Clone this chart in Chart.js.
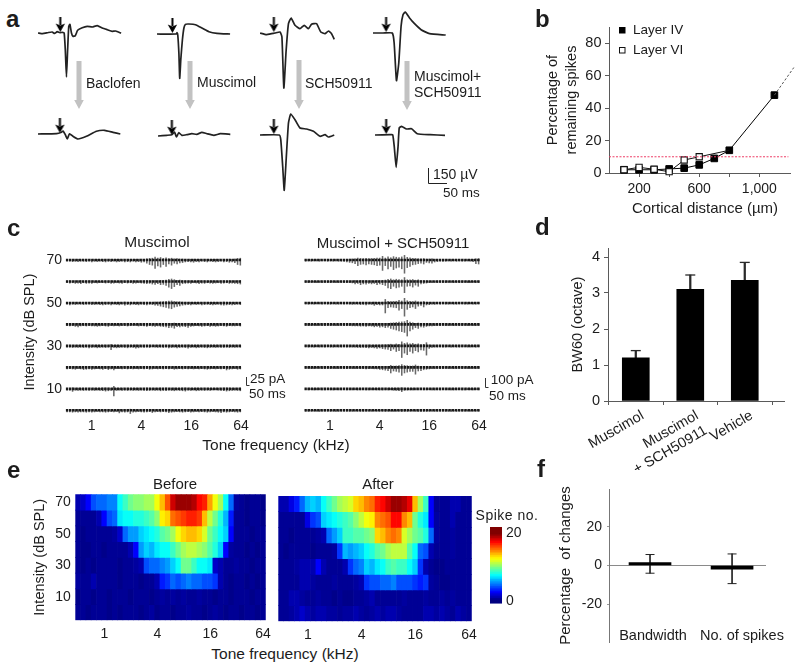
<!DOCTYPE html>
<html><head><meta charset="utf-8">
<style>
html,body{margin:0;padding:0;background:#fff;width:800px;height:667px;overflow:hidden}
canvas{position:absolute}
.t{position:absolute;white-space:pre;line-height:1;color:#1c1c1c;font-family:"Liberation Sans",Arial,sans-serif}
svg{position:absolute;left:0;top:0}
</style>
<script src="https://cdn.jsdelivr.net/npm/chart.js@4"></script>
</head><body>
<script>
// ---------- panel a: evoked responses, [time ms, amplitude uV] ----------
const baclofenBefore=[[0,0],[12,-7],[27,5],[37,10],[43,-5],[50,13],[57,3],[63,7],[68,0],[71,-170],[74,-440],[77,-170],[80,67],[83,87],[87,0],[91,-33],[97,-27],[103,27],[115,53],[128,67],[141,60],[154,73],[167,50],[180,33],[193,17],[202,20],[216,-3]];
const muscimolBefore=[[0,0],[50,0],[52,13],[54,-10],[57,-200],[59,-443],[62,-250],[66,-60],[70,60],[74,97],[83,100],[100,93],[118,57],[135,23],[156,7],[190,0]];
const schBefore=[[0,0],[17,-17],[30,-7],[39,0],[52,10],[57,-40],[62,-550],[68,-173],[74,93],[81,150],[91,77],[104,43],[115,77],[126,43],[134,87],[147,93],[158,10],[169,-7],[178,20],[186,-7],[193,-63]];
const bothBefore=[[0,0],[26,0],[50,0],[55,-100],[61,-476],[67,-300],[73,67],[78,183],[84,210],[95,150],[108,93],[125,33],[147,-7],[189,-20]];
const baclofenAfter=[[0,0],[48,3],[61,17],[65,30],[71,-7],[76,-50],[82,3],[91,-23],[104,-50],[126,-23],[152,27],[173,37],[195,17],[214,0]];
const muscimolAfter=[[0,0],[23,7],[36,13],[43,40],[48,-10],[54,33],[62,7],[75,13],[88,23],[101,17],[114,37],[127,23],[145,7],[162,23],[188,17]];
const schAfter=[[0,0],[50,0],[54,-47],[59,-313],[63,-553],[68,-247],[74,120],[80,210],[91,153],[104,70],[121,60],[139,37],[156,-13],[169,3],[178,-20],[193,0]];
const bothAfter=[[0,0],[39,3],[46,3],[50,-113],[55,-323],[60,-113],[63,70],[69,87],[82,60],[95,63],[110,13],[143,3],[182,-3]];
const stimulusTimes=[58,40,36,34,57,36,36,29];

// ---------- panel b ----------
const distanceUm=[100,200,300,400,500,600,700,800,1100];
const layerIV=[2,2,2,2.5,3,5,9,14,48];
const layerVIdist=[100,200,300,400,500,600,800];
const layerVI=[2,3.5,2.3,0.8,8,10,14];
const extensionDist=[1100,1229];
const extensionPct=[48,65];
const thresholdPct=10;
const distanceTicks=[200,400,600,800,1000];
const distanceTickLabels=['200','','600','','1,000'];

// ---------- panel c: downward current deflection in pA ----------
const intensityRows=[70,60,50,40,30,20,10,0];
const muscimolPA70=[4,4,5,4,5,4,4,5,4,6,4,5,4,5,6,4,5,4,6,5,4,6,5,6,4,6,5,7,6,10,14,16,26,18,22,14,20,12,16,10,12,9,8,6,5,6,7,5,6,4,5,6,4,5,6,5,4,6,5,7,6,8,14,16];
const muscimolPA60=[4,5,4,6,5,7,4,6,5,6,4,5,4,4,5,4,6,5,4,5,6,4,5,4,6,5,4,5,6,7,6,8,9,7,10,9,12,18,22,16,10,12,7,6,5,6,4,5,7,5,6,4,5,6,5,4,6,5,4,6,5,6,7,8];
const muscimolPA50=[4,6,4,5,4,4,5,4,4,5,5,4,5,6,5,4,6,4,5,6,4,7,5,6,4,5,6,4,5,6,4,5,7,8,10,12,14,16,18,13,11,9,7,6,5,6,4,5,4,6,5,4,5,6,5,4,6,7,6,5,6,5,4,5];
const muscimolPA40=[4,5,4,6,8,5,4,5,4,5,5,6,5,4,5,6,4,5,4,5,4,4,5,4,3,3,5,4,5,6,4,5,6,5,6,7,8,10,9,12,7,8,6,7,9,6,5,4,5,6,5,4,6,5,6,5,4,5,6,4,5,5,4,5];
const muscimolPA30=[4,4,5,4,5,4,5,4,6,5,4,6,5,4,5,4,12,5,6,5,4,5,6,4,5,7,6,4,5,4,5,3,4,5,4,5,4,6,5,4,6,5,4,5,7,5,4,6,5,4,5,6,5,4,5,4,5,5,4,5,4,5,4,4];
const muscimolPA20=[5,4,5,6,4,5,7,6,5,6,5,4,5,6,4,7,5,8,4,4,5,4,5,4,5,4,5,4,5,4,6,5,4,5,4,5,4,5,4,6,5,4,5,4,5,4,5,4,5,4,5,6,5,4,5,4,5,4,8,6,5,4,6,5];
const muscimolPA10=[4,4,8,4,5,4,5,4,5,4,5,4,5,6,7,6,5,22,5,4,5,4,5,4,5,4,5,4,5,6,5,4,5,4,6,5,6,4,5,6,4,5,6,7,4,5,4,6,5,4,5,4,5,3,3,4,5,6,7,6,5,4,5,6];
const muscimolPA0=[5,5,6,5,6,5,5,6,5,6,5,4,5,5,6,5,4,5,4,8,5,6,5,10,6,5,4,5,6,5,4,7,5,4,5,4,5,7,6,5,4,5,6,5,4,6,5,4,5,4,5,6,5,4,5,6,7,5,6,5,4,5,6,5];
const comboPA70=[15,12,15,12,12,15,12,12,15,12,15,12,15,15,18,25,30,35,45,70,55,50,60,50,55,60,70,65,130,70,110,80,120,100,90,110,165,95,80,60,55,45,40,50,30,35,40,25,20,15,18,15,12,15,12,15,12,15,15,12,15,20,45,50];
const comboPA60=[12,15,12,12,15,12,15,12,15,15,12,15,15,12,15,15,15,18,30,25,40,30,35,25,30,25,40,30,40,50,80,90,60,80,70,60,140,60,55,70,45,60,30,25,20,15,15,12,15,12,15,15,12,12,15,12,15,15,12,15,15,12,15,15];
const comboPA50=[12,15,12,15,12,12,15,12,15,15,12,15,15,12,15,12,15,18,15,15,20,18,25,15,18,30,20,25,25,125,60,50,55,60,90,70,165,80,60,50,70,40,30,50,25,20,15,18,12,15,12,15,15,12,15,15,12,12,15,15,12,15,15,12];
const comboPA40=[12,15,15,12,15,12,15,15,12,15,12,15,15,12,15,15,15,18,20,18,22,20,25,20,22,30,25,35,30,40,35,50,60,70,80,90,100,145,80,60,40,50,30,35,25,20,18,15,12,15,12,15,15,12,15,12,15,15,12,15,12,15,15,12];
const comboPA30=[12,15,12,15,12,15,12,15,12,15,15,12,15,15,12,15,15,15,15,18,20,18,22,25,20,25,30,25,35,40,45,60,40,70,60,145,90,110,70,90,60,75,50,55,115,30,20,15,15,12,15,15,12,15,12,15,15,12,12,15,15,12,15,12];
const comboPA20=[12,12,15,15,12,12,15,15,12,15,12,15,15,12,15,15,12,15,15,12,15,15,18,15,15,18,20,25,30,35,40,70,45,50,60,100,70,60,50,50,85,45,40,30,25,18,15,15,12,15,15,12,15,12,15,15,12,15,12,15,15,12,15,12];
const comboPA10=[10,12,10,12,12,10,12,12,10,12,12,10,12,12,10,12,12,12,10,12,12,10,12,14,12,12,14,12,14,12,14,12,18,20,22,35,18,15,12,14,12,12,10,12,12,10,12,14,12,12,10,12,12,12,14,12,10,12,12,10,12,12,10,12];
const comboPA0=[12,12,10,12,12,14,12,12,10,12,12,14,12,10,12,10,12,12,10,12,12,12,10,12,12,10,12,12,10,12,12,12,14,12,12,14,12,12,12,10,12,14,14,12,12,12,10,12,12,10,12,12,12,14,12,12,10,12,12,10,12,12,12,10];

// ---------- panel d ----------
const dCategories=['Muscimol',['Muscimol','+ SCH50911'],'Vehicle'];
const bwMean=[1.2,3.1,3.35];
const bwError=[0.2,0.4,0.5];

// ---------- panel e: spike number per intensity row and frequency column ----------
const freqKHz=['0.5','0.57','0.66','0.76','0.87','1','1.15','1.32','1.52','1.74','2','2.3','2.64','3.03','3.48','4','4.59','5.28','6.06','6.96','8','9.19','10.56','12.13','13.93','16','18.38','21.11','24.25','27.86','32','36.76','42.22','48.5','55.72','64'];
const before70=[1.5,2,3,4.5,5,5,5.5,5.5,8,9,10,10.5,10.5,11,11,12.5,14,16,18.5,19.5,19.5,19.5,19,17.5,17,14.5,12.5,11,8,5,1.2,1,.8,1,1,.8];
const before60=[1,1,1,1,1.5,3,4.5,5,7.5,8,8,8.5,8.5,9,9.5,10.5,13,13.5,15.5,16,16.5,17,17,16.5,14,11.5,10,8.5,6.5,3.5,1,1,.8,1,1,.8];
const before50=[1,.8,1,1,1,1,1,1.2,2,5,6,6,7,7.5,8,8.5,9.5,10,11,12.5,13.5,14,14,13.5,12,10,9,8,7,3,1,1,1,.8,1,1];
const before40=[1,.8,.8,1,1,.8,1,1,1,1,1.5,3,6,7,6.5,7.5,8,8,9,10,11,11.5,11.5,11,10.5,9.5,8.5,7,3,1.2,1,1,.8,1,.8,1];
const before30=[1,.8,1,.8,1,1,1,1,.8,1,1,1.2,1.5,4.5,5,5,5.5,6,7,8,10,10,9,8,8,7.5,2,1.5,1,1,1.2,1,1,.8,1,1];
const before20=[1.2,1,1,1.5,1,1,1,1,.8,1,1,1,.8,1,1,1.5,3.5,4,5,4.5,5,5.5,5,5,4.5,4.5,4,1.5,1,.8,1,1,.8,1,.8,1];
const before10=[.8,1,1,.8,1,1,.8,1,1,1,.8,1,1,1,.8,1,1.2,1,1.2,1,1.2,1,1,1.2,1,1,.8,1,1,.8,1,1,1,.8,1,1];
const before0=[1,1,.8,1,1,1,.8,1,.8,1,1,1,.8,1,1.2,.8,1,1,.8,1,1,1.2,1,1,.8,1,1.2,1,.8,1,1,.8,1,1,.8,1];
const after70=[1.5,1.5,2.5,3.5,5,6.5,7,6.5,8,9,10,11,11.5,12,13.5,14,15,15.5,17,17.5,18.5,19.5,19.5,19,18,14,11,9,3,1,1,1,1.5,1.5,1,1];
const after60=[1,1,1,1,1,2.5,4,4.5,7,7.5,8,8.5,9,9.5,10.5,11.5,12.5,13,15,15.5,16,17.5,17.5,15,14,10,8.5,7.5,3,1.2,1,1,1.5,1,1,1];
const after50=[1,1,.8,1,1,1,1,1.2,1.5,5,6,7,9,9,9.5,9.5,10,10.5,13.5,14,15,15.5,15,12,11,10,9.5,8.5,5,1.2,1,1,1.2,1,1,1];
const after40=[1,.8,1,1,1,1,.8,1,1,1,1.2,4,6.5,6,6.5,7,8,8.5,9.5,10,11,11.5,11.5,11.5,9.5,8,5,4.5,1.5,1,1,1,1.2,1,1,1];
const after30=[1,1,1,1.2,1.5,1.5,1.5,3,1.5,1,1,1,1.5,4,5,5.5,7,6.5,7.5,8,9,9.5,9,9,8,7,4,1.5,1,.8,.8,1,1,1,1,1];
const after20=[1,1,1,1,1.5,1.5,1.2,1,1,1,1.2,1,1,1,1.2,1.5,4,4.5,4.5,5,5,5.5,4.5,4.5,4.5,4,3.5,4,1.2,1,.8,.8,1,1,1,1];
const after10=[1,1,1.5,1.5,1.2,1,1,1.2,1,1,.8,1,.8,.8,1,1,1.2,1.5,1,1,1,1,1,1.2,1,1,1,1.2,1,1,1.2,1,1.2,1,1,1];
const after0=[1,1,1.2,1.5,2,1.5,1.2,1.5,1.5,1.2,1.2,1,1.2,1.2,1.5,1.2,1,1.2,1.5,1.2,1.5,1.5,1.2,1,1,1,1,1.5,1.5,1.2,1.5,1.2,1,1.5,1.2,1];
const colorbarLevels=[-0.5,0,0.5,1,1.5,2,2.5,3,3.5,4,4.5,5,5.5,6,6.5,7,7.5,8,8.5,9,9.5,10,10.5,11,11.5,12,12.5,13,13.5,14,14.5,15,15.5,16,16.5,17,17.5,18,18.5,19,19.5,20,20.5,21,21.5];

// ---------- panel f ----------
const fCategories=['Bandwidth','No. of spikes'];
const changeMean=[1.5,-1.9];
const changeLow=[-4,-9.4];
const changeHigh=[5.7,6];

// ---------- helpers ----------
const FONT='"Liberation Sans",Arial,sans-serif';
const INK='#1c1c1c', AXIS='#5a5a5a';
Chart.defaults.font.family=FONT;
Chart.defaults.color=INK;
Chart.defaults.animation=false;
Chart.defaults.responsive=false;
Chart.defaults.plugins.legend.display=false;
Chart.defaults.plugins.tooltip.enabled=false;

function chartAt(box,plot,cfg){
  const c=document.createElement('canvas');
  c.width=box.w;c.height=box.h;
  c.style.left=box.x+'px';c.style.top=box.y+'px';
  document.body.appendChild(c);
  const sx=cfg.options.scales.x, sy=cfg.options.scales.y;
  const showX=sx.display!==false && !sx.position;
  const showY=sy.display!==false;
  const yRight=sy.position==='right';
  if(showX) sx.afterFit=s=>{s.height=box.y+box.h-plot.b;};
  if(showY) sy.afterFit=s=>{s.width=yRight?(box.x+box.w-plot.r):(plot.l-box.x);};
  cfg.options.layout={autoPadding:false,padding:{
    top:plot.t-box.y,
    left:(showY&&!yRight)?0:plot.l-box.x,
    right:(showY&&yRight)?0:box.x+box.w-plot.r,
    bottom:showX?0:box.y+box.h-plot.b}};
  return new Chart(c,cfg);
}
function label(text,x,y,size,o={}){
  const d=document.createElement('div');
  d.className='t';d.textContent=text;
  d.style.left=x+'px';d.style.top=y+'px';d.style.fontSize=size+'px';
  if(o.bold)d.style.fontWeight='700';
  if(o.spacing)d.style.letterSpacing=o.spacing+'px';
  d.style.transform=o.left?'translate(0,-50%)':'translate(-50%,-50%)';
  document.body.appendChild(d);
}
const axisLines={color:AXIS,drawOnChartArea:false,drawTicks:true,tickColor:AXIS};
const noGrid={display:false,drawTicks:false};

// ---------- panel a drawing ----------
function arrowGlyph(){
  const c=document.createElement('canvas');c.width=11;c.height=15;
  const g=c.getContext('2d');g.fillStyle='#000';
  g.fillRect(4.5,0,2,8);
  g.beginPath();g.moveTo(0.8,6.5);g.lineTo(5.5,15);g.lineTo(10.2,6.5);g.lineTo(5.5,8.5);g.closePath();g.fill();
  return c;
}
const glyph=arrowGlyph();
function trace(series,arrowMs,left,base){
  const box={x:left,y:base-40,w:170,h:135};
  chartAt(box,{l:left,t:base-40,r:left+170,b:base+95},{
    type:'scatter',
    data:{datasets:[
      {data:series.map(p=>({x:p[0],y:p[1]})),showLine:true,borderColor:'#222',borderWidth:1.7,pointRadius:0,tension:0.15,clip:false},
      {data:[{x:arrowMs,y:85}],pointStyle:glyph,pointRadius:7,showLine:false,clip:false}
    ]},
    options:{scales:{x:{display:false,min:0,max:442},y:{display:false,min:-950,max:400}}}
  });
}
trace(baclofenBefore,stimulusTimes[0],37.7,33);
trace(muscimolBefore,stimulusTimes[1],156.7,34);
trace(schBefore,stimulusTimes[2],260,33);
trace(bothBefore,stimulusTimes[3],373,33);
trace(baclofenAfter,stimulusTimes[4],38,134);
trace(muscimolAfter,stimulusTimes[5],158,135.7);
trace(schAfter,stimulusTimes[6],260,135);
trace(bothAfter,stimulusTimes[7],375,135);

// ---------- panel b drawing ----------
chartAt({x:543.5,y:5,w:256,h:211},{l:608.5,t:27,r:790,b:173},{
  type:'scatter',
  data:{datasets:[
    {data:[{x:0,y:thresholdPct},{x:1193,y:thresholdPct}],showLine:true,borderColor:'#ee3c66',borderWidth:1,borderDash:[2,1.5],pointRadius:0},
    {data:extensionDist.map((d,i)=>({x:d,y:extensionPct[i]})),showLine:true,borderColor:'#555',borderWidth:1,borderDash:[2.5,2],pointRadius:0,clip:false},
    {data:layerVIdist.map((d,i)=>({x:d,y:layerVI[i]})),showLine:true,borderColor:'#111',borderWidth:1,pointStyle:'rect',pointRadius:layerVIdist.map(d=>d<700?4.4:0),backgroundColor:'#fff',pointBorderColor:'#111',pointBorderWidth:1.1,clip:false},
    {data:distanceUm.map((d,i)=>({x:d,y:layerIV[i]})),showLine:true,borderColor:'#000',borderWidth:1,pointStyle:'rect',pointRadius:4.7,backgroundColor:'#000',pointBorderColor:'#000',clip:false,order:1}
  ]},
  options:{scales:{
    x:{type:'linear',min:0,max:1207,grid:{...axisLines,tickLength:4},border:{color:AXIS},
       afterBuildTicks:s=>{s.ticks=distanceTicks.map(v=>({value:v}));},
       ticks:{autoSkip:false,maxRotation:0,padding:4,font:{size:14},
         callback:v=>distanceTickLabels[distanceTicks.indexOf(v)]}},
    y:{min:0,max:90,grid:{...axisLines,tickLength:4},border:{color:AXIS},
       ticks:{stepSize:20,includeBounds:false,padding:3.5,font:{size:14.5}},
       title:{display:true,text:['Percentage of','remaining spikes'],font:{size:14.5,lineHeight:1.31},padding:0,color:INK}}
  }}
});
label('Cortical distance (\u00b5m)',705,207,15);
label('Layer IV',633,30,13.5,{left:true});
label('Layer VI',633,50,13.5,{left:true});

// ---------- panel c drawing ----------
function currents(rows,kDbPerPA,xMin,xMax,box,plot,showY,title){
  const ds=[];
  rows.forEach((vals,r)=>{
    const lvl=intensityRows[r];
    ds.push({type:'line',data:[{x:xMin,y:lvl},{x:xMax,y:lvl}],borderColor:'#1a1a1a',borderWidth:2.6,borderDash:[2.5,0.7],pointRadius:0,order:0});
    ds.push({type:'bar',grouped:false,barThickness:0.9,backgroundColor:'#6a6a6a',order:1,clip:false,
      data:vals.map((d,i)=>({x:xMin+(i+0.5)*(xMax-xMin)/vals.length,y:[lvl+0.35*d*kDbPerPA,lvl-d*kDbPerPA]}))});
  });
  chartAt(box,plot,{type:'bar',data:{datasets:ds},options:{scales:{
    x:{type:'linear',offset:false,min:xMin,max:xMax,grid:noGrid,border:{display:false},
       afterBuildTicks:s=>{s.ticks=[0,2,4,6].map(v=>({value:v}));},
       ticks:{padding:2,autoSkip:false,maxRotation:0,font:{size:14},callback:v=>String(2**v)}},
    y:showY?{min:-2.65,max:75.59,grid:noGrid,border:{display:false},
       afterBuildTicks:s=>{s.ticks=[10,30,50,70].map(v=>({value:v}));},
       ticks:{padding:3.7,font:{size:14}},
       title:{display:true,text:title,font:{size:14.5,lineHeight:1.25},padding:0,color:INK}}
      :{display:false,min:-2.65,max:75.59}
  }}});
}
currents([muscimolPA70,muscimolPA60,muscimolPA50,muscimolPA40,muscimolPA30,muscimolPA20,muscimolPA10,muscimolPA0],0.15,-1.045,6.03,
  {x:21,y:225,w:235,h:210},{l:65.7,t:248,r:241.7,b:416},true,'Intensity (dB SPL)');
currents([comboPA70,comboPA60,comboPA50,comboPA40,comboPA30,comboPA20,comboPA10,comboPA0],0.0373,-1.035,6.04,
  {x:290,y:225,w:205,h:210},{l:304.3,t:248,r:480,b:416},false,'');
label('Muscimol',157,242,15.5);
label('Muscimol + SCH50911',393,242,15);
label('Tone frequency (kHz)',276,445,15.5);
label('25 pA',250,379,13.5,{left:true});
label('50 ms',249,394,13.5,{left:true});
label('100 pA',490.7,380,13.5,{left:true});
label('50 ms',489,396,13.5,{left:true});

// ---------- panel d drawing ----------
chartAt({x:569,y:230,w:231,h:240},{l:608,t:248,r:784,b:401},{
  type:'bar',
  data:{datasets:[
    {grouped:false,data:bwMean.map((v,i)=>({x:i+1,y:v})),backgroundColor:'#000',barThickness:27,order:1},
    {grouped:false,data:bwMean.map((v,i)=>({x:i+1,y:[v,v+bwError[i]]})),backgroundColor:'#2a2a2a',barThickness:1.6,order:2},
    {type:'scatter',data:bwMean.map((v,i)=>({x:i+1,y:v+bwError[i]})),pointStyle:'line',pointRadius:5,borderColor:'#2a2a2a',pointBorderWidth:1.3,order:0}
  ]},
  options:{scales:{
    x:{type:'linear',offset:false,min:0.49,max:3.72,grid:{...axisLines,tickLength:4},border:{color:AXIS},
       afterBuildTicks:s=>{s.ticks=[1,2,3].map(v=>({value:v}));},
       ticks:{autoSkip:false,minRotation:30,maxRotation:30,padding:2,labelOffset:7,font:{size:14.5},callback:v=>dCategories[v-1]}},
    y:{min:0,max:4.25,grid:{...axisLines,tickLength:4},border:{color:AXIS},
       ticks:{stepSize:1,includeBounds:false,padding:4,font:{size:14.5}},
       title:{display:true,text:'BW60 (octave)',font:{size:14.5,lineHeight:1.25},padding:0,color:INK}}
  }}
});

// ---------- panel e drawing ----------
function jet(v){
  const t=Math.max(0,Math.min(1,(v-0.6)/19.4));
  const f=k=>Math.round(255*Math.max(0,Math.min(1,1.5-Math.abs(4*t-k))));
  return 'rgb('+f(3)+','+f(2)+','+f(1)+')';
}
function heat(rows,box,plot,showY){
  chartAt(box,plot,{type:'bar',
    data:{labels:freqKHz,datasets:rows.map((vals,r)=>({
      grouped:false,barPercentage:1,categoryPercentage:1,
      data:vals.map(()=>[intensityRows[r]-5,intensityRows[r]+5]),
      backgroundColor:vals.map(jet)}))},
    options:{scales:{
      x:{grid:noGrid,border:{display:false},
         ticks:{autoSkip:false,maxRotation:0,padding:5,font:{size:14},
           callback(v){const l=freqKHz[v];return ['1','4','16','64'].includes(l)?l:'';}}},
      y:showY?{min:-5,max:75,grid:noGrid,border:{display:false},
         afterBuildTicks:s=>{s.ticks=[10,30,50,70].map(v=>({value:v}));},
         ticks:{padding:4.5,font:{size:14}},
         title:{display:true,text:'Intensity (dB SPL)',font:{size:14.5,lineHeight:1.25},padding:0,color:INK}}
        :{display:false,min:-5,max:75}
    }}
  });
}
heat([before70,before60,before50,before40,before30,before20,before10,before0],
  {x:31,y:474,w:245,h:169},{l:75.3,t:494.3,r:268.7,b:620.3},true);
heat([after70,after60,after50,after40,after30,after20,after10,after0],
  {x:272,y:474,w:210,h:169},{l:278.3,t:496,r:472.3,b:621.3},false);
label('Before',175,483,15);
label('After',378,483,15);
label('Tone frequency (kHz)',285,654,15.5);
label('Spike no.',507,515,14,{spacing:0.5});
chartAt({x:485,y:510,w:40,h:106},{l:490,t:527,r:502,b:604},{
  type:'bar',
  data:{datasets:[{data:colorbarLevels.map(v=>({x:1,y:v})),backgroundColor:colorbarLevels.map(jet),barThickness:2.6}]},
  options:{indexAxis:'y',scales:{
    x:{display:false,min:0,max:1},
    y:{type:'linear',position:'right',offset:false,min:-0.6,max:21.7,grid:noGrid,border:{display:false},
       afterBuildTicks:s=>{s.ticks=[0,20].map(v=>({value:v}));},
       ticks:{padding:4,font:{size:14}}}
  }}
});

// ---------- panel f drawing ----------
chartAt({x:557,y:470,w:225,h:190},{l:609,t:489,r:765.7,b:642},{
  type:'bar',
  data:{datasets:[
    {grouped:false,data:changeMean.map((v,i)=>({x:i+1,y:[0,v]})),backgroundColor:'#000',barThickness:42,order:1},
    {grouped:false,data:changeMean.map((v,i)=>({x:i+1,y:[changeLow[i],changeHigh[i]]})),backgroundColor:'#222',barThickness:1,order:2},
    {type:'scatter',data:changeHigh.map((v,i)=>({x:i+1,y:v})).concat(changeLow.map((v,i)=>({x:i+1,y:v}))),pointStyle:'line',pointRadius:4.5,borderColor:'#222',pointBorderWidth:1,order:0}
  ]},
  options:{scales:{
    x:{type:'linear',offset:false,position:{y:0},min:0.5,max:2.41,grid:noGrid,border:{color:'#8a8a8a',width:1},ticks:{display:false}},
    y:{min:-39.7,max:39.7,grid:{...axisLines,tickLength:2,color:'#777',tickColor:'#999'},border:{color:'#777'},
       afterBuildTicks:s=>{s.ticks=[-20,0,20].map(v=>({value:v}));},
       ticks:{padding:5,font:{size:14}},
       title:{display:true,text:'Percentage  of changes',font:{size:15,lineHeight:1.2},padding:0,color:INK}}
  }}
});
label(fCategories[0],653,635,14.5);
label(fCategories[1],742,635,14.5);

// ---------- panel a labels ----------
label('Baclofen',86,83,14,{left:true});
label('Muscimol',197,82,14,{left:true});
label('SCH50911',305,83,14,{left:true});
label('Muscimol+',414,76,14,{left:true});
label('SCH50911',414,92,14,{left:true});
label('150 \u00b5V',433,174,14,{left:true});
label('50 ms',443,193,13.5,{left:true});

// ---------- panel letters ----------
[['a',6,18.7],['b',535,18.7],['c',7,227.7],['d',535,226.7],['e',7,469.7],['f',537,468.7]].forEach(p=>label(p[0],p[1],p[2],24,{bold:true,left:true}));

// ---------- decoration: grey treatment arrows, scale bars, legend keys ----------
const svgNS='http://www.w3.org/2000/svg';
const svg=document.createElementNS(svgNS,'svg');
svg.setAttribute('width',800);svg.setAttribute('height',667);
let m='';
[[79,61,109],[190,61,109],[299,60,109],[407,61,110]].forEach(a=>{
  const [x,y0,y1]=a;
  m+=`<path d="M${x-2.5} ${y0}H${x+2.5}V${y1-9}H${x+4.8}L${x} ${y1}L${x-4.8} ${y1-9}H${x-2.5}Z" fill="#c2c2c2"/>`;
});
m+='<path d="M428.5 168V183.5H447" fill="none" stroke="#222" stroke-width="1"/>';
m+='<path d="M246.5 377V385.5H249.5" fill="none" stroke="#333" stroke-width="1"/>';
m+='<path d="M485.5 378V387.5H488.5" fill="none" stroke="#333" stroke-width="1"/>';
m+='<rect x="619" y="27" width="6.5" height="6.5" fill="#000"/>';
m+='<rect x="619.5" y="47.5" width="5.5" height="5.5" fill="#fff" stroke="#111" stroke-width="1"/>';
svg.innerHTML=m;
document.body.appendChild(svg);
</script>
</body></html>
